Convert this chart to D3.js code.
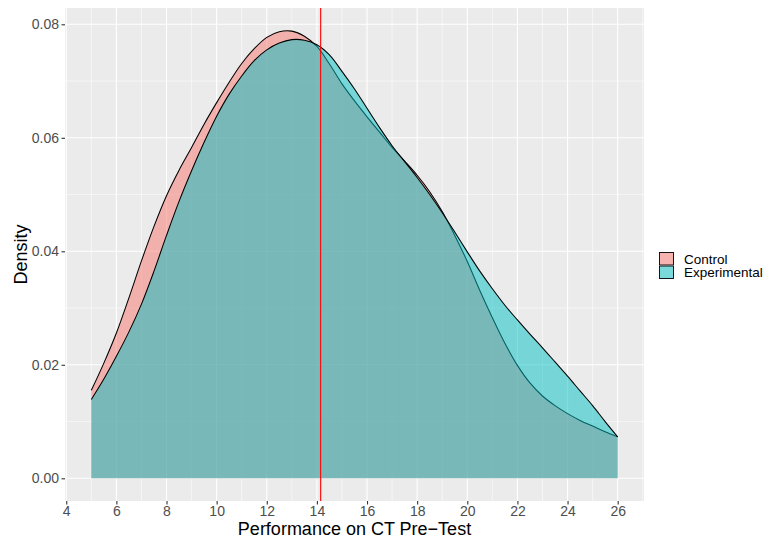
<!DOCTYPE html>
<html>
<head>
<meta charset="utf-8">
<script src="https://cdn.jsdelivr.net/npm/d3@7"></script>
<style>
html, body { margin: 0; padding: 0; background: #ffffff; }
svg { display: block; font-family: "Liberation Sans", Arial, sans-serif; }
</style>
</head>
<body>
<svg id="chart" width="764" height="541"></svg>
<script>
// ---- data ----
const groups = ["Control", "Experimental"];
const groupColors = ["#F8766D", "#00BFC4"];

const scoreGrid = [5, 5.5, 6, 6.5, 7, 7.5, 8, 8.5, 9, 9.5, 10, 10.5, 11, 11.5, 12, 12.5, 13, 13.5, 14, 14.5,
  15, 15.5, 16, 16.5, 17, 17.5, 18, 18.5, 19, 19.5, 20, 20.5, 21, 21.5, 22, 22.5, 23, 23.5, 24, 24.5, 25, 25.5, 26];

const controlDensity = [0.0155, 0.0203, 0.0256, 0.0318, 0.0383, 0.0444, 0.0498, 0.0543, 0.0583, 0.0624,
  0.0662, 0.0698, 0.0731, 0.0757, 0.0777, 0.0787, 0.0788, 0.0779, 0.0761, 0.0730,
  0.0695, 0.0665, 0.0637, 0.0610, 0.0583, 0.0559, 0.0534, 0.0505, 0.0470, 0.0428,
  0.0382, 0.0331, 0.0283, 0.0238, 0.0199, 0.0168, 0.0145, 0.0128, 0.0114, 0.0102,
  0.0092, 0.0082, 0.0073];

const experimentalDensity = [0.0139, 0.0175, 0.0215, 0.0258, 0.0307, 0.0365, 0.0428, 0.0488, 0.0542, 0.0592,
  0.0638, 0.0677, 0.0709, 0.0736, 0.0755, 0.0767, 0.0773, 0.0772, 0.0764, 0.0746,
  0.0717, 0.0686, 0.0652, 0.0618, 0.0586, 0.0558, 0.0530, 0.0500, 0.0468, 0.0434,
  0.0399, 0.0365, 0.0334, 0.0305, 0.0279, 0.0254, 0.0230, 0.0205, 0.0180, 0.0154,
  0.0128, 0.0100, 0.0073];

const meanLine = 14.15;

const xTicks = [4, 6, 8, 10, 12, 14, 16, 18, 20, 22, 24, 26];
const xMinor = [5, 7, 9, 11, 13, 15, 17, 19, 21, 23, 25, 27];
const yTicks = [0, 0.02, 0.04, 0.06, 0.08];
const yTickLabels = ["0.00", "0.02", "0.04", "0.06", "0.08"];
const yMinor = [0.01, 0.03, 0.05, 0.07];

const xTitle = "Performance on CT Pre\u2212Test";
const yTitle = "Density";

// ---- layout ----
const svg = d3.select("#chart");
const panel = { left: 65, right: 644, top: 8, bottom: 501 };

const x = d3.scaleLinear().domain([3.95, 27.05]).range([panel.left, panel.right]);
const y = d3.scaleLinear().domain([0, 0.08]).range([478.3, 24.3]);

// panel background
svg.append("rect")
  .attr("x", panel.left).attr("y", panel.top)
  .attr("width", panel.right - panel.left).attr("height", panel.bottom - panel.top)
  .attr("fill", "#EBEBEB");

svg.append("defs").append("clipPath").attr("id", "clip")
  .append("rect")
  .attr("x", panel.left).attr("y", panel.top)
  .attr("width", panel.right - panel.left).attr("height", panel.bottom - panel.top);

const grid = svg.append("g").attr("clip-path", "url(#clip)");
// minor grid
grid.selectAll(".xminor").data(xMinor).enter().append("line")
  .attr("x1", d => x(d)).attr("x2", d => x(d))
  .attr("y1", panel.top).attr("y2", panel.bottom)
  .attr("stroke", "#ffffff").attr("stroke-width", 0.55);
grid.selectAll(".yminor").data(yMinor).enter().append("line")
  .attr("y1", d => y(d)).attr("y2", d => y(d))
  .attr("x1", panel.left).attr("x2", panel.right)
  .attr("stroke", "#ffffff").attr("stroke-width", 0.55);
// major grid
grid.selectAll(".xmajor").data(xTicks).enter().append("line")
  .attr("x1", d => x(d)).attr("x2", d => x(d))
  .attr("y1", panel.top).attr("y2", panel.bottom)
  .attr("stroke", "#ffffff").attr("stroke-width", 1.1);
grid.selectAll(".ymajor").data(yTicks).enter().append("line")
  .attr("y1", d => y(d)).attr("y2", d => y(d))
  .attr("x1", panel.left).attr("x2", panel.right)
  .attr("stroke", "#ffffff").attr("stroke-width", 1.1);

// densities
const series = [controlDensity, experimentalDensity];
const plot = svg.append("g").attr("clip-path", "url(#clip)");
const area = d3.area()
  .x((d, i) => x(scoreGrid[i]))
  .y0(y(0))
  .y1(d => y(d))
  .curve(d3.curveCatmullRom.alpha(0.5));
const line = d3.line()
  .x((d, i) => x(scoreGrid[i]))
  .y(d => y(d))
  .curve(d3.curveCatmullRom.alpha(0.5));

series.forEach((vals, gi) => {
  plot.append("path")
    .datum(vals)
    .attr("d", area)
    .attr("fill", groupColors[gi])
    .attr("fill-opacity", 0.5)
    .attr("stroke", "none");
  plot.append("path")
    .datum(vals)
    .attr("d", line)
    .attr("fill", "none")
    .attr("stroke", "#000000")
    .attr("stroke-width", 1.05);
});

// mean line
plot.append("line")
  .attr("x1", x(meanLine)).attr("x2", x(meanLine))
  .attr("y1", panel.top).attr("y2", panel.bottom)
  .attr("stroke", "#FF0000").attr("stroke-width", 1.1);

// axes
const xAxis = d3.axisBottom(x).tickValues(xTicks).tickSize(3.5).tickPadding(2).tickFormat(d3.format("d"));
const gx = svg.append("g").attr("transform", `translate(0,${panel.bottom})`).call(xAxis);
gx.select(".domain").remove();
gx.selectAll(".tick line").attr("stroke", "#333333").attr("stroke-width", 1.1);
gx.selectAll(".tick text").attr("fill", "#4D4D4D").attr("font-size", "14px")
  .attr("font-family", "Liberation Sans, Arial, sans-serif");

const yAxis = d3.axisLeft(y).tickValues(yTicks).tickSize(3.5).tickPadding(2.5)
  .tickFormat((d, i) => yTickLabels[i]);
const gy = svg.append("g").attr("transform", `translate(${panel.left},0)`).call(yAxis);
gy.select(".domain").remove();
gy.selectAll(".tick line").attr("stroke", "#333333").attr("stroke-width", 1.1);
gy.selectAll(".tick text").attr("fill", "#4D4D4D").attr("font-size", "14px")
  .attr("font-family", "Liberation Sans, Arial, sans-serif");

// axis titles
svg.append("text")
  .attr("x", (panel.left + panel.right) / 2).attr("y", 535)
  .attr("text-anchor", "middle").attr("font-size", "18px").attr("fill", "#000000")
  .text(xTitle);
svg.append("text")
  .attr("transform", `translate(27,${(panel.top + panel.bottom) / 2}) rotate(-90)`)
  .attr("text-anchor", "middle").attr("font-size", "18px").attr("fill", "#000000")
  .text(yTitle);

// legend
const legend = svg.append("g").attr("transform", "translate(659,252)");
const keySize = 14;
groups.forEach((g, i) => {
  const row = legend.append("g").attr("transform", `translate(0,${i * 13.5})`);
  row.append("rect").attr("x", 0).attr("y", 0).attr("width", keySize + 1).attr("height", 13.5)
    .attr("fill", "#F2F2F2");
  row.append("rect").attr("x", 0.5).attr("y", 0.5).attr("width", keySize).attr("height", 12.5)
    .attr("fill", groupColors[i]).attr("fill-opacity", 0.5)
    .attr("stroke", "#000000").attr("stroke-width", 0.9);
  row.append("text").attr("x", 25).attr("y", 11.5)
    .attr("font-size", "13.5px").attr("fill", "#000000")
    .text(g);
});
</script>
</body>
</html>
